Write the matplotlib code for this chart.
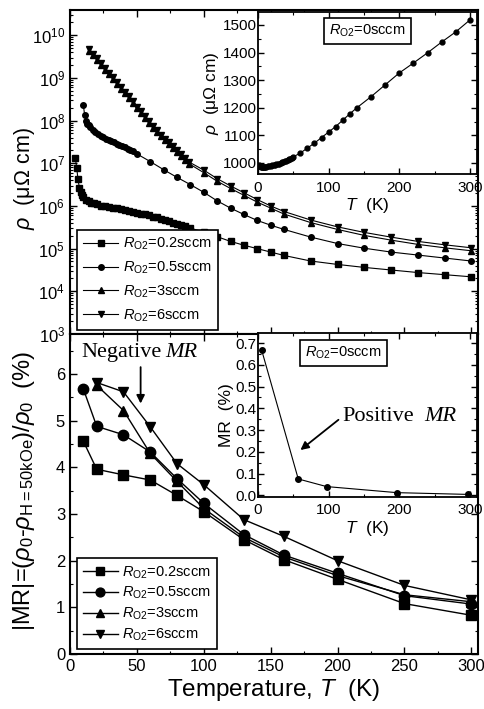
import matplotlib
matplotlib.use("Agg")
import matplotlib.pyplot as plt
import numpy as np
from matplotlib.ticker import MultipleLocator, LogLocator, NullFormatter

plt.rcParams['font.family'] = ['Liberation Sans', 'DejaVu Sans']
plt.rcParams['mathtext.fontset'] = 'custom'
plt.rcParams['mathtext.rm'] = 'Liberation Sans'
plt.rcParams['mathtext.it'] = 'Liberation Sans:italic'
plt.rcParams['mathtext.bf'] = 'Liberation Sans:bold'
plt.rcParams['xtick.direction'] = 'in'
plt.rcParams['ytick.direction'] = 'in'

# %% resistivity vs T (top panel), log10(rho)
T_02 = [4, 5, 6, 7, 8, 9, 10, 12, 14, 16, 18, 20, 23, 26, 29, 32, 35, 38, 41, 44, 47,
        50, 53, 56, 59, 62, 65, 68, 71, 74, 77, 80, 83, 86, 90, 100, 110, 120, 130,
        140, 150, 160, 180, 200, 220, 240, 260, 280, 300]
lg_02 = [7.12, 6.9, 6.62, 6.43, 6.32, 6.25, 6.21, 6.15, 6.11, 6.08, 6.06, 6.04, 6.01,
         5.99, 5.97, 5.96, 5.95, 5.93, 5.91, 5.89, 5.87, 5.84, 5.82, 5.8, 5.78, 5.75,
         5.73, 5.7, 5.67, 5.64, 5.61, 5.58, 5.55, 5.52, 5.48, 5.39, 5.28, 5.17, 5.08,
         5.0, 4.92, 4.84, 4.71, 4.63, 4.56, 4.5, 4.44, 4.39, 4.34]

T_05 = [10, 11, 12, 13, 14, 15, 17, 19, 21, 23, 25, 27, 29, 31, 33, 35, 37, 39, 41,
        43, 45, 47, 50, 60, 70, 80, 90, 100, 110, 120, 130, 140, 150, 160, 180, 200,
        220, 240, 260, 280, 300]
lg_05 = [8.36, 8.12, 8.0, 7.93, 7.89, 7.86, 7.79, 7.73, 7.68, 7.65, 7.62, 7.58, 7.55,
         7.52, 7.49, 7.46, 7.43, 7.4, 7.37, 7.34, 7.31, 7.28, 7.22, 7.04, 6.85, 6.67,
         6.5, 6.32, 6.12, 5.95, 5.8, 5.66, 5.55, 5.45, 5.27, 5.12, 5.01, 4.92, 4.85,
         4.78, 4.71]

T_3 = [14, 17, 20, 23, 26, 29, 32, 35, 38, 41, 44, 47, 50, 53, 56, 59, 62, 65, 68,
       71, 74, 77, 80, 83, 86, 89, 100, 110, 120, 130, 140, 150, 160, 180, 200, 220,
       240, 260, 280, 300]
lg_3 = [9.64, 9.53, 9.42, 9.3, 9.19, 9.08, 8.97, 8.86, 8.75, 8.64, 8.53, 8.41, 8.29,
        8.18, 8.06, 7.94, 7.83, 7.73, 7.63, 7.54, 7.45, 7.36, 7.27, 7.18, 7.08, 6.99,
        6.78, 6.58, 6.41, 6.25, 6.09, 5.95, 5.81, 5.61, 5.45, 5.31, 5.2, 5.1, 5.02,
        4.95]

T_6 = [14, 17, 20, 23, 26, 29, 32, 35, 38, 41, 44, 47, 50, 53, 56, 59, 62, 65, 68,
       71, 74, 77, 80, 83, 86, 89, 100, 110, 120, 130, 140, 150, 160, 180, 200, 220,
       240, 260, 280, 300]
lg_6 = [9.68, 9.57, 9.46, 9.34, 9.23, 9.12, 9.01, 8.9, 8.79, 8.68, 8.57, 8.45, 8.33,
        8.22, 8.1, 7.98, 7.87, 7.77, 7.67, 7.58, 7.49, 7.4, 7.31, 7.22, 7.12, 7.03,
        6.84, 6.64, 6.47, 6.31, 6.15, 6.0, 5.87, 5.67, 5.51, 5.38, 5.27, 5.17, 5.09,
        5.02]

# inset: R_O2 = 0 sccm
T_0 = [1, 2, 3, 4, 5, 6, 7, 8, 9, 10, 12, 14, 16, 18, 20, 22, 24, 26, 28, 30, 32, 34,
       36, 38, 40, 42, 44, 46, 48, 50, 60, 70, 80, 90, 100, 110, 120, 130, 140, 160,
       180, 200, 220, 240, 260, 280, 300]
rho_0 = [993, 990, 988, 987, 986, 986, 986, 986, 986, 987, 987, 988, 989, 990, 991,
         992, 993, 995, 996, 998, 1000, 1002, 1004, 1006, 1008, 1011, 1013, 1016,
         1019, 1022, 1036, 1054, 1072, 1092, 1112, 1132, 1155, 1178, 1200, 1240,
         1283, 1326, 1362, 1399, 1438, 1475, 1518]

# %% |MR| vs T (bottom panel)
Tm_02 = [10, 20, 40, 60, 80, 100, 130, 160, 200, 250, 300]
mr_02 = [4.56, 3.96, 3.84, 3.73, 3.4, 3.05, 2.45, 2.02, 1.6, 1.08, 0.83]
Tm_05 = [10, 20, 40, 60, 80, 100, 130, 160, 200, 250, 300]
mr_05 = [5.68, 4.88, 4.7, 4.33, 3.76, 3.23, 2.56, 2.12, 1.73, 1.25, 1.07]
Tm_3 = [20, 40, 60, 80, 100, 130, 160, 200, 250, 300]
mr_3 = [5.76, 5.22, 4.3, 3.7, 3.12, 2.5, 2.08, 1.68, 1.27, 1.12]
Tm_6 = [20, 40, 60, 80, 100, 130, 160, 200, 250, 300]
mr_6 = [5.82, 5.62, 4.87, 4.08, 3.63, 2.88, 2.52, 2.0, 1.47, 1.16]

# inset: MR for R_O2 = 0 sccm
Tp_0 = [5, 57, 97, 197, 297]
mr_0 = [0.67, 0.075, 0.04, 0.012, 0.004]

labels = [r'$R_{\mathrm{O2}}$=0.2sccm', r'$R_{\mathrm{O2}}$=0.5sccm',
          r'$R_{\mathrm{O2}}$=3sccm', r'$R_{\mathrm{O2}}$=6sccm']
marks = ['s', 'o', '^', 'v']

fig = plt.figure(figsize=(4.84, 7.09), dpi=100)
ax1 = fig.add_axes([0.1446, 0.5289, 0.843, 0.457])
ax2 = fig.add_axes([0.1446, 0.0776, 0.843, 0.4513])

top = [(T_02, lg_02), (T_05, lg_05), (T_3, lg_3), (T_6, lg_6)]
for (tt, lg), m, lab in zip(top, marks, labels):
    ax1.plot(tt, 10 ** np.array(lg), '-', color='k', lw=0.8, marker=m, ms=4,
             mec='k', mfc='k', label=lab)
ax1.set_yscale('log')
ax1.set_ylim(1e3, 3.9e10)
ax1.set_xlim(0, 305)
ax1.yaxis.set_major_locator(LogLocator(base=10, numticks=20))
ax1.yaxis.set_minor_locator(LogLocator(base=10, subs=np.arange(2, 10), numticks=20))
ax1.yaxis.set_minor_formatter(NullFormatter())
ax1.xaxis.set_major_locator(MultipleLocator(50))
ax1.xaxis.set_minor_locator(MultipleLocator(25))
ax1.tick_params(labelbottom=False, top=True, right=True, which='both', labelsize=12)
ax1.tick_params(which='major', length=5, width=1)
ax1.tick_params(which='minor', length=2.5, width=0.8)
ax1.set_ylabel(r'$\rho$  ($\mathrm{\mu\Omega}$ cm)', fontsize=15.5)
ax1.yaxis.set_label_coords(-0.08, 0.48)
leg1 = ax1.legend(loc='lower left', bbox_to_anchor=(0.017, 0.012), borderaxespad=0,
                  fontsize=10.5, fancybox=False, edgecolor='k', framealpha=1,
                  handlelength=2.4, labelspacing=0.5, borderpad=0.45,
                  handletextpad=0.3)
leg1.get_frame().set_linewidth(1.2)

bot = [(Tm_02, mr_02), (Tm_05, mr_05), (Tm_3, mr_3), (Tm_6, mr_6)]
for (tt, mr), m, lab in zip(bot, marks, labels):
    ax2.plot(tt, mr, '-', color='k', lw=1, marker=m, ms=7.5, mec='k', mfc='k',
             label=lab)
ax2.set_xlim(0, 305)
ax2.set_ylim(0, 6.86)
ax2.xaxis.set_major_locator(MultipleLocator(50))
ax2.xaxis.set_minor_locator(MultipleLocator(25))
ax2.yaxis.set_major_locator(MultipleLocator(1))
ax2.yaxis.set_minor_locator(MultipleLocator(0.5))
ax2.tick_params(top=True, right=True, which='both', labelsize=12)
ax2.tick_params(which='major', length=5, width=1)
ax2.tick_params(which='minor', length=2.5, width=0.8)
ax2.set_xlabel(r'Temperature, $T$  (K)', fontsize=17.5, labelpad=2)
ax2.set_ylabel(r'|MR|=($\rho_0$-$\rho_{\mathrm{H=50kOe}}$)/$\rho_0$  (%)',
               fontsize=17)
ax2.yaxis.set_label_coords(-0.082, 0.51)
leg2 = ax2.legend(loc='lower left', bbox_to_anchor=(0.017, 0.016), borderaxespad=0,
                  fontsize=10.5, fancybox=False, edgecolor='k', framealpha=1,
                  handlelength=2.4, labelspacing=0.3, borderpad=0.4,
                  handletextpad=0.3, markerscale=0.85)
leg2.get_frame().set_linewidth(1.2)

ax2.annotate('', xy=(52.8, 5.31), xytext=(52.8, 6.21),
             arrowprops=dict(arrowstyle='-|>', color='k', lw=1.3,
                             mutation_scale=12))
ax2.text(8.4, 6.46, 'Negative', family='Liberation Serif', fontsize=16,
         ha='left', va='center')
ax2.text(95.5, 6.46, 'MR', family='Liberation Serif', style='italic', fontsize=16,
         ha='right', va='center')

for a in (ax1, ax2):
    for s in a.spines.values():
        s.set_linewidth(1.5)

# inset 1: rho vs T for 0 sccm
in1 = fig.add_axes([0.533, 0.7546, 0.4525, 0.2289])
in1.plot(T_0, rho_0, '-', color='k', lw=0.8, marker='o', ms=3.5, mfc='k', mec='k')
in1.set_xlim(0, 310)
in1.set_ylim(960, 1548)
in1.xaxis.set_major_locator(MultipleLocator(100))
in1.xaxis.set_minor_locator(MultipleLocator(50))
in1.yaxis.set_major_locator(MultipleLocator(100))
in1.yaxis.set_minor_locator(MultipleLocator(50))
in1.tick_params(top=True, right=True, which='both', labelsize=11)
in1.tick_params(axis='y', pad=1)
in1.tick_params(axis='x', pad=5)
in1.tick_params(which='major', length=4, width=1)
in1.tick_params(which='minor', length=2, width=0.8)
in1.set_xlabel(r'$T$  (K)', fontsize=12.5, labelpad=1)
in1.set_ylabel(r'$\rho$  ($\mathrm{\mu\Omega}$ cm)', fontsize=12.5, labelpad=1)
in1.text(0.5, 0.88, r'$R_{\mathrm{O2}}$=0sccm', transform=in1.transAxes,
         fontsize=10.5, ha='center', va='center',
         bbox=dict(boxstyle='square,pad=0.35', fc='white', ec='k', lw=1.2))

# inset 2: MR vs T for 0 sccm
in2 = fig.add_axes([0.533, 0.299, 0.4525, 0.231])
in2.plot(Tp_0, mr_0, '-', color='k', lw=0.8, marker='o', ms=4, mfc='k', mec='k')
in2.set_xlim(0, 310)
in2.set_ylim(-0.008, 0.745)
in2.xaxis.set_major_locator(MultipleLocator(100))
in2.xaxis.set_minor_locator(MultipleLocator(50))
in2.yaxis.set_major_locator(MultipleLocator(0.1))
in2.yaxis.set_minor_locator(MultipleLocator(0.05))
in2.tick_params(top=True, right=True, which='both', labelsize=11)
in2.tick_params(axis='y', pad=1)
in2.tick_params(axis='x', pad=4.5)
in2.tick_params(which='major', length=4, width=1)
in2.tick_params(which='minor', length=2, width=0.8)
in2.set_xlabel(r'$T$  (K)', fontsize=12.5, labelpad=1.5)
in2.set_ylabel('MR  (%)', fontsize=12.5, labelpad=1)
in2.text(0.39, 0.88, r'$R_{\mathrm{O2}}$=0sccm', transform=in2.transAxes,
         fontsize=10.5, ha='center', va='center',
         bbox=dict(boxstyle='square,pad=0.35', fc='white', ec='k', lw=1.2))
in2.annotate('', xy=(57, 0.2), xytext=(117, 0.355),
             arrowprops=dict(arrowstyle='-|>', color='k', lw=1.3,
                             mutation_scale=12))
in2.text(119, 0.36, 'Positive', family='Liberation Serif', fontsize=16,
         ha='left', va='center')
in2.text(281, 0.36, 'MR', family='Liberation Serif', style='italic', fontsize=16,
         ha='right', va='center')

for a in (in1, in2):
    for s in a.spines.values():
        s.set_linewidth(1.3)

fig.savefig('out.png', dpi=100)
